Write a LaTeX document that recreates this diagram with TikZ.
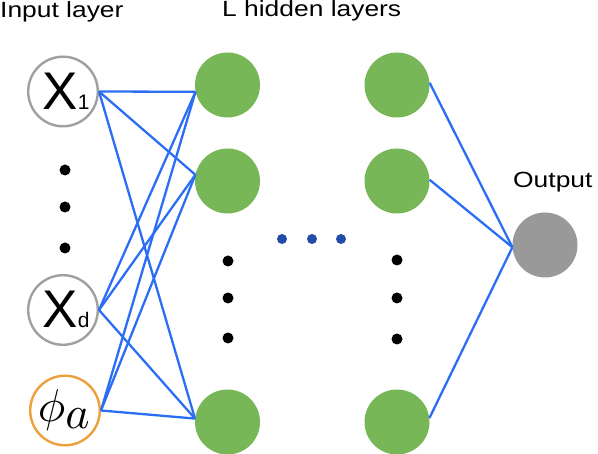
\documentclass[tikz,border=0pt]{standalone}
\usepackage{fontspec}
\setmainfont{Liberation Sans}
\newfontfamily\headfont[FakeStretch=1.2]{Liberation Sans}
\definecolor{hgreen}{RGB}{120,183,88}
\definecolor{ogray}{RGB}{153,153,153}
\definecolor{cgray}{RGB}{160,160,160}
\definecolor{lblue}{RGB}{43,110,245}
\definecolor{dblue}{RGB}{35,75,170}
\definecolor{corange}{RGB}{238,160,60}
\newcommand\xlbl[1]{{\fontsize{53}{53}\selectfont X}{\fontsize{21}{21}\selectfont #1}}
\tikzset{
  heading/.style={font=\headfont\fontsize{22}{22}\selectfont, inner sep=0pt},
  innode/.style={circle, draw=cgray, line width=2.4pt, minimum size=69.6pt, inner sep=0pt},
  phinode/.style={innode, draw=corange},
  hidnode/.style={circle, fill=hgreen, minimum size=65pt, inner sep=0pt},
  outnode/.style={circle, fill=ogray, minimum size=65pt, inner sep=0pt},
  bdot/.style={circle, fill=black, minimum size=11pt, inner sep=0pt},
  udot/.style={circle, fill=dblue, minimum size=10pt, inner sep=0pt},
  wire/.style={draw=lblue, line width=2.3pt},
}
\begin{document}
\begin{tikzpicture}[x=1pt, y=-1pt]
\useasboundingbox (0,0) rectangle (598,454);
% headings
\node[heading, anchor=base west] (th1) at (0,18) {Input layer};
\node[heading, anchor=base west] (th2) at (222,17) {L hidden layers};
\node[heading, anchor=base west] (th3) at (513,188) {Output};
% input nodes
\node[innode] (x1) at (63,91.5) {};
\node[anchor=center] (x1l) at (66,91) {\xlbl{1}};
\node[innode] (xd) at (63,310) {};
\node[anchor=center] (xdl) at (66,309) {\xlbl{d}};
\node[phinode] (pa) at (65,410.5) {};
\node[anchor=center, inner sep=0pt] (pal) at (65,410) {\scalebox{4.6}{$\phi_{\textstyle a}$}};
% input dots
\node[bdot] (id1) at (65,170) {};
\node[bdot] (id2) at (65,207) {};
\node[bdot] (id3) at (65,248) {};
% hidden layer 1
\node[hidnode] (h11) at (227.5,85) {};
\node[hidnode] (h12) at (227.5,181) {};
\node[hidnode] (h13) at (227.5,422) {};
\node[bdot] (hd11) at (228,261) {};
\node[bdot] (hd12) at (228,298) {};
\node[bdot] (hd13) at (228,338) {};
% hidden layer L
\node[hidnode] (h21) at (397,85) {};
\node[hidnode] (h22) at (397,181) {};
\node[hidnode] (h23) at (397,422) {};
\node[bdot] (hd21) at (397,260) {};
\node[bdot] (hd22) at (397,298) {};
\node[bdot] (hd23) at (397,339) {};
% blue dots between layers
\node[udot] (u1) at (282,239) {};
\node[udot] (u2) at (312,239) {};
\node[udot] (u3) at (341,239) {};
% output
\node[outnode] (out) at (545,245) {};
% connections input -> hidden 1
\foreach \s/\a in {x1/east, xd/east, pa/east}{
  \draw[wire] (\s.\a) -- (h11.192);
  \draw[wire] (\s.\a) -- (h12.169);
  \draw[wire] (\s.\a) -- (h13.174);
}
% hidden L -> output
\draw[wire] (h21.4) -- (out.184);
\draw[wire] (h22.2) -- (out.184);
\draw[wire] (h23.7) -- (out.184);
\end{tikzpicture}
\end{document}
